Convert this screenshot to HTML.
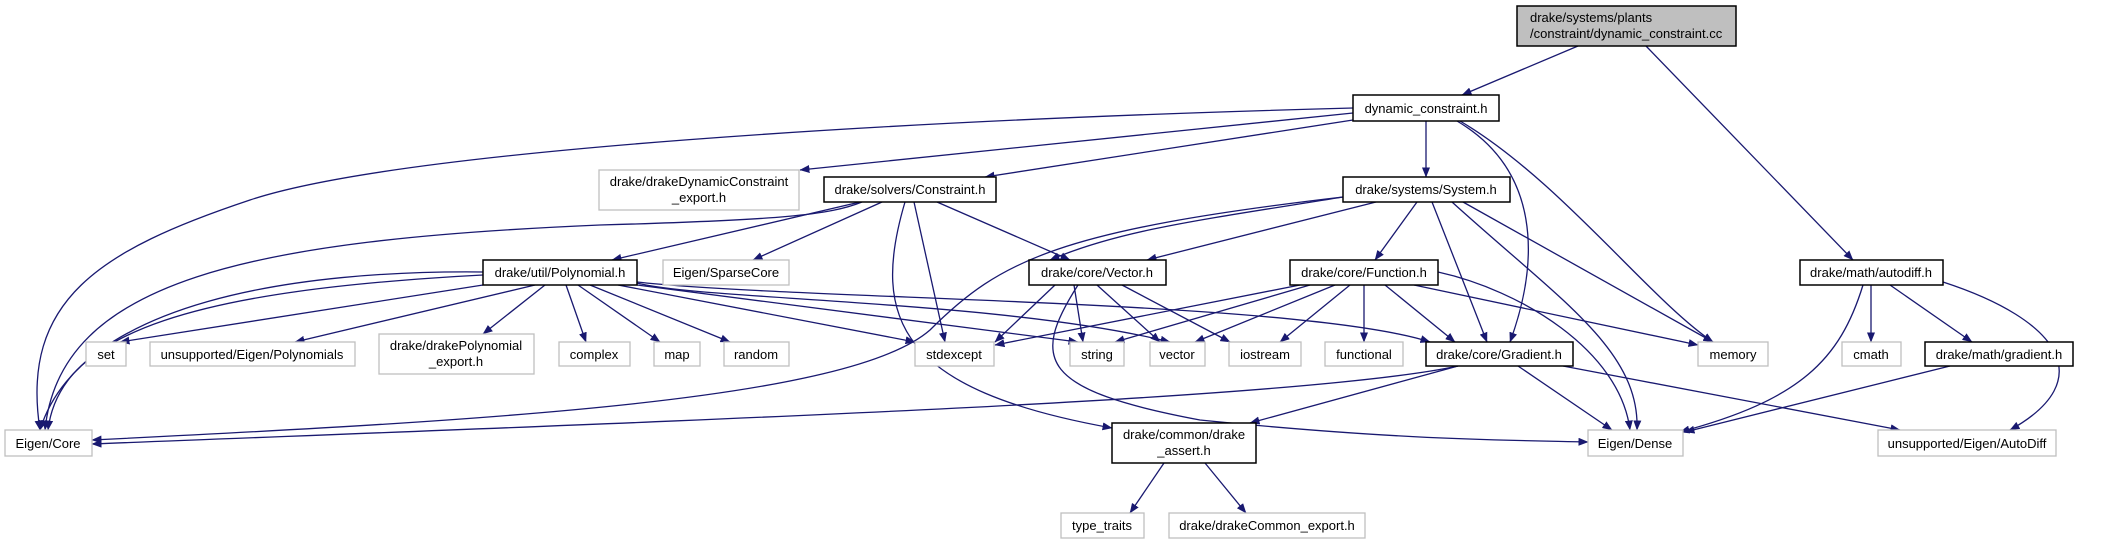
<!DOCTYPE html>
<html><head><meta charset="utf-8"><style>
html,body{margin:0;padding:0;background:#fff;width:2101px;height:544px;overflow:hidden}
svg{display:block}
text{font-family:"Liberation Sans",sans-serif;font-size:13px;fill:#000;text-anchor:middle}
.e{fill:none;stroke:#191970;stroke-width:1.3}
.b{fill:#fff;stroke:#000;stroke-width:1.5}
.g{fill:#fff;stroke:#bfbfbf;stroke-width:1.3}
</style></head><body>
<svg width="2101" height="544" viewBox="0 0 2101 544" xmlns="http://www.w3.org/2000/svg">
<defs><marker id="a" markerWidth="10" markerHeight="8" refX="9.5" refY="4" orient="auto" markerUnits="userSpaceOnUse"><path d="M0,0 L10,4 L0,8 z" fill="#191970"/></marker></defs>
<g class="e" marker-end="url(#a)">
<path d="M1578,46 L1462,95"/>
<path d="M1646,46 L1853,260"/>
<path d="M1353,108 C900,120 400,150 250,200 C100,250 20,300 40,430"/>
<path d="M1353,113 L800,170"/>
<path d="M1353,120 L985,177"/>
<path d="M1426,121 L1426,177"/>
<path d="M1457,121 C1540,170 1540,260 1510,342"/>
<path d="M1460,121 C1560,180 1650,300 1713,342"/>
<path d="M862,202 C830,215 780,220 600,225 C250,240 60,280 45,430"/>
<path d="M860,202 L612,260"/>
<path d="M882,202 L753,260"/>
<path d="M914,202 L945,342"/>
<path d="M905,202 C870,320 900,390 1112,428"/>
<path d="M937,202 L1070,260"/>
<path d="M1343,197 C1200,220 1120,230 1050,260"/>
<path d="M1343,197 C1060,230 1000,260 930,330 C850,400 500,420 92,440"/>
<path d="M1376,202 L1147,260"/>
<path d="M1417,202 L1375,260"/>
<path d="M1432,202 L1487,342"/>
<path d="M1452,202 C1560,300 1640,350 1637,430"/>
<path d="M1463,202 L1713,342"/>
<path d="M483,272 C300,270 80,300 40,430"/>
<path d="M483,275 C200,290 60,330 48,430"/>
<path d="M483,285 L120,342"/>
<path d="M535,285 L295,342"/>
<path d="M545,285 L483,334"/>
<path d="M566,285 L586,342"/>
<path d="M578,285 L660,342"/>
<path d="M590,285 L730,342"/>
<path d="M618,285 L915,342"/>
<path d="M637,285 L1078,342"/>
<path d="M637,283 C700,300 1000,300 1170,342"/>
<path d="M637,282 C800,300 1300,300 1430,342"/>
<path d="M1055,285 L995,342"/>
<path d="M1074,285 L1083,342"/>
<path d="M1097,285 L1160,342"/>
<path d="M1122,285 L1230,342"/>
<path d="M1078,285 C1030,360 1040,390 1200,420 C1400,440 1500,440 1588,442"/>
<path d="M1300,285 L995,345"/>
<path d="M1310,285 L1115,342"/>
<path d="M1335,285 L1195,342"/>
<path d="M1350,285 L1280,342"/>
<path d="M1364,285 L1364,342"/>
<path d="M1385,285 L1455,342"/>
<path d="M1414,285 L1698,345"/>
<path d="M1438,272 C1520,290 1620,350 1630,430"/>
<path d="M1458,366 C1300,400 700,420 92,444"/>
<path d="M1458,366 L1250,423"/>
<path d="M1518,366 L1612,430"/>
<path d="M1563,366 L1900,430"/>
<path d="M1863,285 C1840,360 1800,400 1680,432"/>
<path d="M1871,285 L1871,342"/>
<path d="M1890,285 L1972,342"/>
<path d="M1943,282 C2060,320 2100,380 2010,430"/>
<path d="M1950,366 L1685,432"/>
<path d="M1164,463 L1130,513"/>
<path d="M1205,463 L1246,513"/>
</g>
<rect x="1517" y="6" width="219" height="40" fill="#bfbfbf" stroke="#000" stroke-width="1.5"/>
<text x="1530" y="22" style="text-anchor:start">drake/systems/plants</text>
<text x="1530" y="38" style="text-anchor:start">/constraint/dynamic_constraint.cc</text>
<rect class="b" x="1353" y="95" width="146" height="26"/><text x="1426" y="113">dynamic_constraint.h</text>
<rect class="g" x="599" y="170" width="200" height="40"/><text x="699" y="186">drake/drakeDynamicConstraint</text><text x="699" y="202">_export.h</text>
<rect class="b" x="824" y="177" width="172" height="25"/><text x="910" y="194">drake/solvers/Constraint.h</text>
<rect class="b" x="1343" y="177" width="167" height="25"/><text x="1426" y="194">drake/systems/System.h</text>
<rect class="b" x="483" y="260" width="154" height="25"/><text x="560" y="277">drake/util/Polynomial.h</text>
<rect class="g" x="663" y="260" width="126" height="25"/><text x="726" y="277">Eigen/SparseCore</text>
<rect class="b" x="1029" y="260" width="137" height="25"/><text x="1097" y="277">drake/core/Vector.h</text>
<rect class="b" x="1290" y="260" width="148" height="25"/><text x="1364" y="277">drake/core/Function.h</text>
<rect class="b" x="1800" y="260" width="143" height="25"/><text x="1871" y="277">drake/math/autodiff.h</text>
<rect class="g" x="86" y="342" width="40" height="24"/><text x="106" y="359">set</text>
<rect class="g" x="150" y="342" width="205" height="24"/><text x="252" y="359">unsupported/Eigen/Polynomials</text>
<rect class="g" x="379" y="334" width="155" height="40"/><text x="456" y="350">drake/drakePolynomial</text><text x="456" y="366">_export.h</text>
<rect class="g" x="559" y="342" width="71" height="24"/><text x="594" y="359">complex</text>
<rect class="g" x="654" y="342" width="46" height="24"/><text x="677" y="359">map</text>
<rect class="g" x="724" y="342" width="65" height="24"/><text x="756" y="359">random</text>
<rect class="g" x="915" y="342" width="79" height="24"/><text x="954" y="359">stdexcept</text>
<rect class="g" x="1070" y="342" width="54" height="24"/><text x="1097" y="359">string</text>
<rect class="g" x="1150" y="342" width="55" height="24"/><text x="1177" y="359">vector</text>
<rect class="g" x="1229" y="342" width="72" height="24"/><text x="1265" y="359">iostream</text>
<rect class="g" x="1325" y="342" width="78" height="24"/><text x="1364" y="359">functional</text>
<rect class="b" x="1426" y="342" width="147" height="24"/><text x="1499" y="359">drake/core/Gradient.h</text>
<rect class="g" x="1698" y="342" width="70" height="24"/><text x="1733" y="359">memory</text>
<rect class="g" x="1842" y="342" width="59" height="24"/><text x="1871" y="359">cmath</text>
<rect class="b" x="1925" y="342" width="148" height="24"/><text x="1999" y="359">drake/math/gradient.h</text>
<rect class="g" x="5" y="430" width="87" height="26"/><text x="48" y="448">Eigen/Core</text>
<rect class="b" x="1112" y="423" width="144" height="40"/><text x="1184" y="439">drake/common/drake</text><text x="1184" y="455">_assert.h</text>
<rect class="g" x="1588" y="430" width="95" height="26"/><text x="1635" y="448">Eigen/Dense</text>
<rect class="g" x="1878" y="430" width="178" height="26"/><text x="1967" y="448">unsupported/Eigen/AutoDiff</text>
<rect class="g" x="1061" y="513" width="83" height="25"/><text x="1102" y="530">type_traits</text>
<rect class="g" x="1169" y="513" width="196" height="25"/><text x="1267" y="530">drake/drakeCommon_export.h</text>
</svg>
</body></html>
